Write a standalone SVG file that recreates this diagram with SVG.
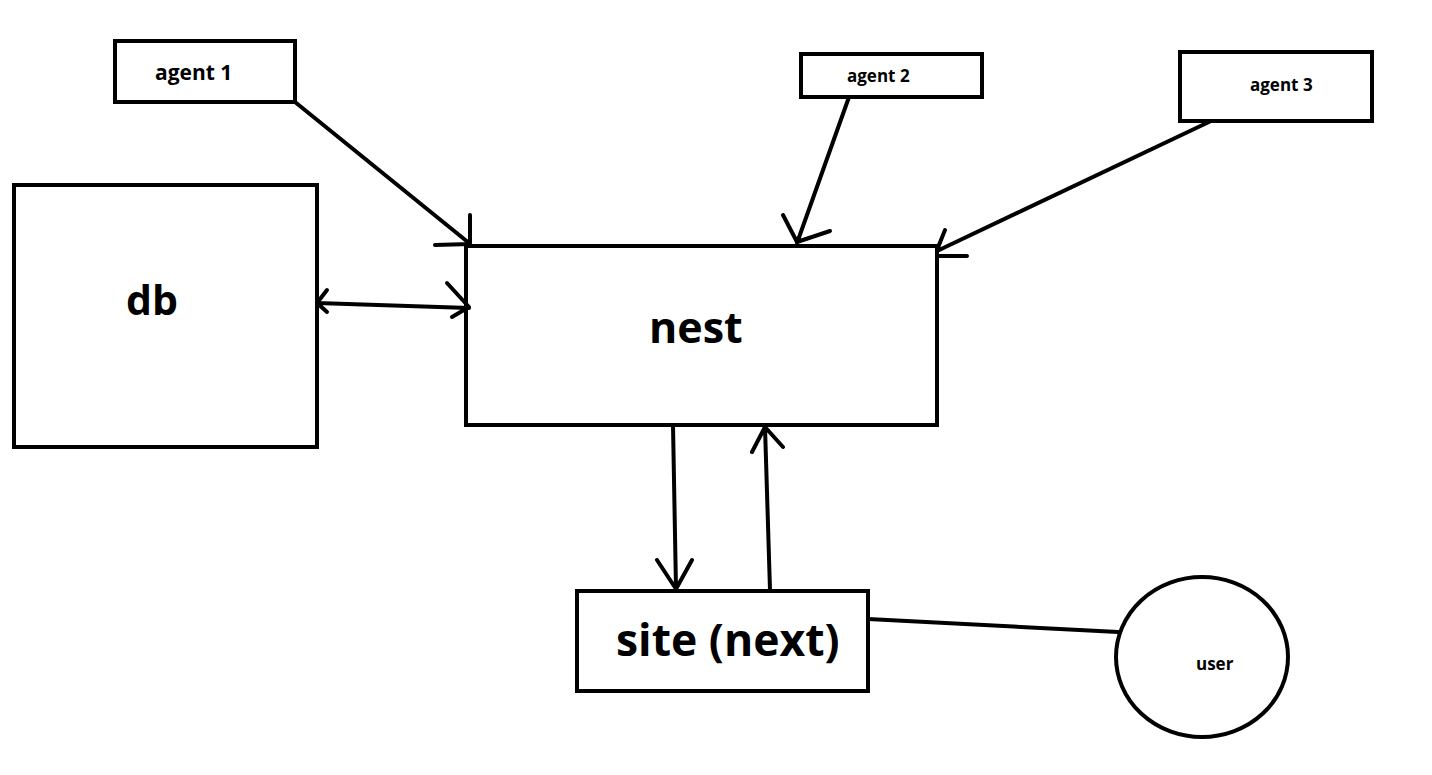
<svg xmlns="http://www.w3.org/2000/svg" width="1432" height="775" viewBox="0 0 1432 775">
<style>
.box{fill:#fff;stroke:#000;stroke-width:4}
.ln{fill:none;stroke:#000;stroke-width:4;stroke-linecap:round;stroke-linejoin:round}
text{font-family:"Open Sans","Noto Sans","Liberation Sans",sans-serif;font-weight:bold;fill:#000}
</style>
<rect width="1432" height="775" fill="#fff"/>
<g id="agent1"><rect class="box" x="115" y="41" width="180" height="61"/><text x="155" y="80" font-size="21">agent 1</text></g>
<g id="agent2"><rect class="box" x="801" y="54" width="181" height="43"/><text x="847" y="82" font-size="17">agent 2</text></g>
<g id="agent3"><rect class="box" x="1180" y="52" width="192" height="69"/><text x="1250" y="91" font-size="17">agent 3</text></g>
<g id="db"><rect class="box" x="14" y="185" width="303" height="262"/><text x="126" y="315" font-size="41">db</text></g>
<g id="nest"><rect class="box" x="466" y="246" width="471" height="179"/><text x="649" y="343" font-size="43">nest</text></g>
<g id="site"><rect class="box" x="577" y="591" width="291" height="100"/><text x="616" y="656" font-size="44.5">site (next)</text></g>
<g id="user"><ellipse class="box" cx="1202" cy="657" rx="86" ry="80"/><text x="1196" y="670" font-size="17">user</text></g>
<g id="connectors">
<path class="ln" d="M295,102 L469,243 M470,215 L470,243 M435,245 L470,244"/>
<path class="ln" d="M317,303 L469,308 M327,290 L317,303 L327,312 M447,283 L469,307 L452,317"/>
<path class="ln" d="M849,97 L797,243 M783,215 L797,242 L830,231"/>
<path class="ln" d="M1211,121 L937,251 M945,230 L937,250 M937,256 L967,256"/>
<path class="ln" d="M673,425 L676,589 M657,560 L676,589 L692,560"/>
<path class="ln" d="M770,590 L765,427 M752,452 L765,427 L783,447"/>
<path class="ln" d="M868,619 L1118,632"/>
</g>
</svg>
